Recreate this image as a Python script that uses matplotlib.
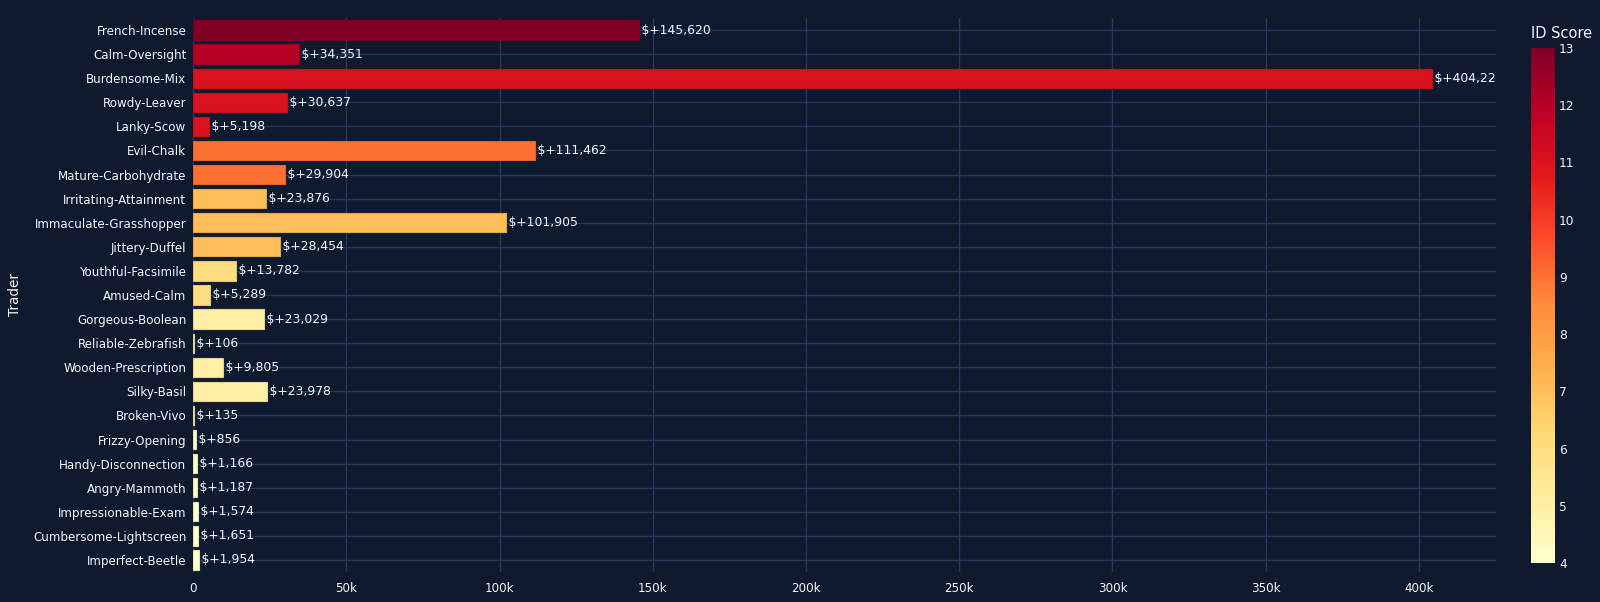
import matplotlib
matplotlib.use("Agg")
import matplotlib.pyplot as plt
import matplotlib.colors as mcolors
import numpy as np

plt.rcParams['font.family'] = ['DejaVu Sans']

traders = ["French-Incense", "Calm-Oversight", "Burdensome-Mix", "Rowdy-Leaver", "Lanky-Scow",
           "Evil-Chalk", "Mature-Carbohydrate", "Irritating-Attainment", "Immaculate-Grasshopper",
           "Jittery-Duffel", "Youthful-Facsimile", "Amused-Calm", "Gorgeous-Boolean",
           "Reliable-Zebrafish", "Wooden-Prescription", "Silky-Basil", "Broken-Vivo",
           "Frizzy-Opening", "Handy-Disconnection", "Angry-Mammoth", "Impressionable-Exam",
           "Cumbersome-Lightscreen", "Imperfect-Beetle"]
profits = [145620, 34351, 404221, 30637, 5198, 111462, 29904, 23876, 101905, 28454, 13782,
           5289, 23029, 106, 9805, 23978, 135, 856, 1166, 1187, 1574, 1651, 1954]
id_scores = [13, 12, 11, 11, 11, 9, 9, 7, 7, 7, 6, 6, 5, 5, 5, 5, 5, 4, 4, 4, 4, 4, 4]
x_ticks = [0, 50000, 100000, 150000, 200000, 250000, 300000, 350000, 400000]
x_tick_labels = ["0", "50k", "100k", "150k", "200k", "250k", "300k", "350k", "400k"]
cbar_ticks = [4, 5, 6, 7, 8, 9, 10, 11, 12, 13]

BG = "#101a2e"
GRID = "#25375c"
TXT = "#f2f5fa"

W, H = 1600, 602
fig = plt.figure(figsize=(W / 100, H / 100), dpi=100, facecolor=BG)
ax = fig.add_axes([193.3 / W, 1 - 572 / H, (1495.7 - 193.3) / W, (572 - 18) / H])
ax.set_facecolor(BG)

cmap = plt.get_cmap("YlOrRd")
norm = mcolors.Normalize(vmin=4, vmax=13)

n = len(traders)
ypos = np.arange(n)
colors = [cmap(norm(s)) for s in id_scores]
edges = [tuple(np.array(c[:3]) * 0.88) + (1.0,) for c in colors]
ax.barh(ypos, profits, height=0.8, color=colors, edgecolor=edges, linewidth=0.8, zorder=3)

for y, v in zip(ypos, profits):
    ax.text(v, y, f"\u2009$+{v:,}", va="center", ha="left",
            color=TXT, fontsize=8.9, zorder=4, clip_on=True)

ax.set_ylim(n - 0.5, -0.5)
ax.set_xlim(0, 425100)
ax.set_yticks(ypos)
ax.set_yticklabels(traders, color=TXT, fontsize=8.6)
ax.set_xticks(x_ticks)
ax.set_xticklabels(x_tick_labels, color=TXT, fontsize=8.6)
ax.tick_params(axis="both", length=0)
ax.tick_params(axis="y", pad=5)
ax.tick_params(axis="x", pad=7)
ax.grid(True, color=GRID, linewidth=1, zorder=0)
for s in ax.spines.values():
    s.set_visible(False)
ax.set_axisbelow(True)

fig.text(15 / W, 1 - 295 / H, "Trader", rotation=90, va="center", ha="center",
         color=TXT, fontsize=9.8)

cax = fig.add_axes([1530.7 / W, 1 - 563 / H, (1555 - 1530.7) / W, (563 - 48) / H])
sm = plt.cm.ScalarMappable(norm=norm, cmap=cmap)
cb = fig.colorbar(sm, cax=cax, ticks=cbar_ticks)
cb.outline.set_visible(False)
cax.tick_params(length=0, colors=TXT, labelsize=8.8, pad=3)
fig.text(1531 / W, 1 - 34 / H, "ID Score", ha="left", va="center", color=TXT, fontsize=10.5)

fig.savefig("out.png", dpi=100, facecolor=BG)
